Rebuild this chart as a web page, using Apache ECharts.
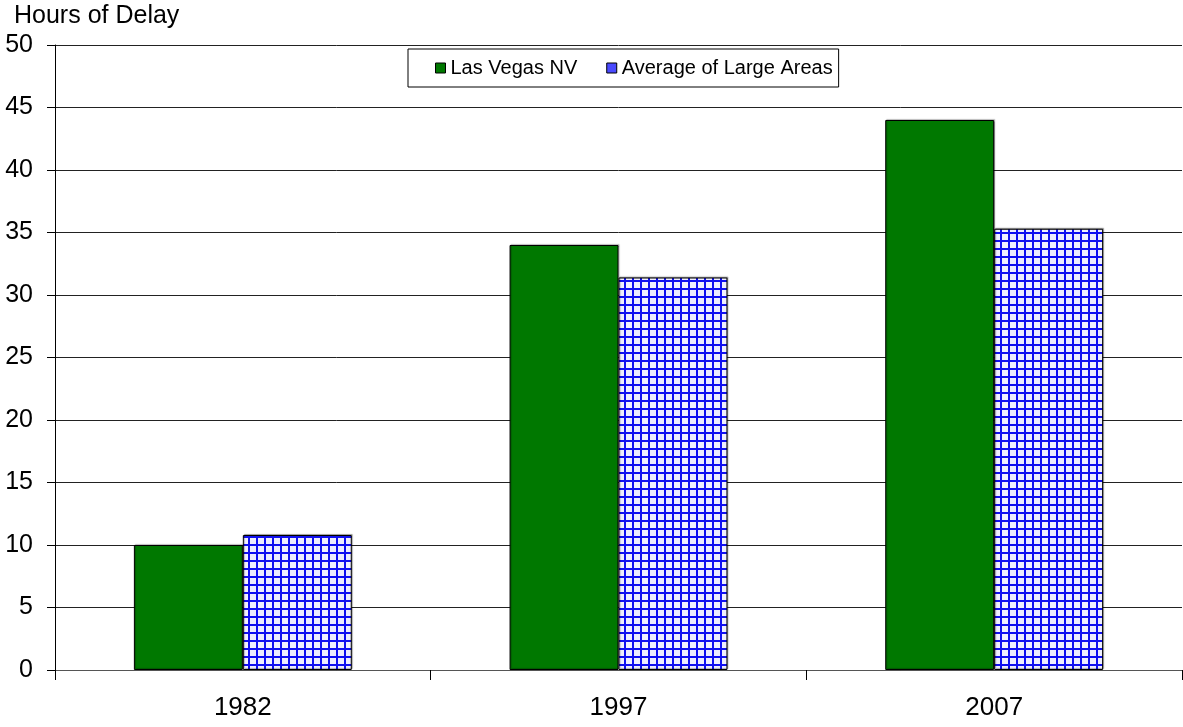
<!DOCTYPE html>
<html><head><meta charset="utf-8">
<script src="https://cdn.jsdelivr.net/npm/echarts@6/dist/echarts.min.js"></script>
<style>html,body{margin:0;padding:0;background:#fff}#c{width:1183px;height:727px}</style>
</head><body><div id="c"></div>
<script>
const categories = ['1982', '1997', '2007'];
const lasVegas = [10, 34, 44];
const largeAreas = [10.8, 31.4, 35.3];
const seriesNames = ['Las Vegas NV', 'Average of Large Areas'];
const yAxisTitle = 'Hours of Delay';

const pc = document.createElement('canvas');
pc.width = 8; pc.height = 8;
const g = pc.getContext('2d');
g.fillStyle = '#f0f0ff'; g.fillRect(0, 0, 8, 8);
g.fillStyle = '#1010f0';
g.fillRect(0, 0, 8, 2);
g.fillRect(0, 0, 2, 8);
const pattern = { image: pc, repeat: 'repeat' };

const chart = echarts.init(document.getElementById('c'), null, { renderer: 'canvas' });
const font = 'Liberation Sans, Arial, sans-serif';
chart.setOption({
  animation: false,
  textStyle: { fontFamily: font },
  grid: { left: 55, right: 1, top: 45, bottom: 57, containLabel: false },
  legend: {
    left: 408, top: 49,
    padding: [9, 6, 9, 27],
    itemGap: 29,
    borderColor: '#000', borderWidth: 1, backgroundColor: '#fff',
    itemWidth: 10, itemHeight: 10, icon: 'rect',
    textStyle: { fontSize: 20, color: '#000', fontFamily: font, lineHeight: 20 },
    data: [
      { name: seriesNames[0], itemStyle: { color: '#007800', borderColor: '#000', borderWidth: 1 } },
      { name: seriesNames[1], itemStyle: { color: '#4a4aff', borderColor: '#000', borderWidth: 1 } }
    ]
  },
  xAxis: {
    type: 'category', data: categories,
    axisLine: { lineStyle: { color: '#555', width: 1 } },
    axisTick: { show: true, alignWithLabel: false, length: 10, lineStyle: { color: '#000' } },
    axisLabel: { fontSize: 26, color: '#000', margin: 25, fontFamily: font }
  },
  yAxis: {
    type: 'value', min: 0, max: 50, interval: 5,
    name: yAxisTitle, nameLocation: 'end', nameGap: 16,
    nameTextStyle: { fontSize: 25, color: '#000', align: 'left', padding: [0, 0, 0, -41], fontFamily: font },
    axisLine: { show: true, lineStyle: { color: '#000', width: 1 } },
    axisTick: { show: true, length: 8, lineStyle: { color: '#000' } },
    axisLabel: { fontSize: 25, color: '#000', margin: 22, fontFamily: font },
    splitLine: { show: true, lineStyle: { color: '#222', width: 1 } }
  },
  series: [
    {
      name: seriesNames[0], type: 'bar', data: lasVegas,
      barGap: '0%', barCategoryGap: '42%',
      itemStyle: { color: '#007800', borderColor: '#000', borderWidth: 1,
        shadowColor: 'rgba(0,0,0,0.3)', shadowOffsetX: 1, shadowOffsetY: -1, shadowBlur: 1 }
    },
    {
      name: seriesNames[1], type: 'bar', data: largeAreas,
      barGap: '0%', barCategoryGap: '42%',
      itemStyle: { color: pattern, borderColor: '#000', borderWidth: 1,
        shadowColor: 'rgba(0,0,0,0.3)', shadowOffsetX: 1, shadowOffsetY: -1, shadowBlur: 1 }
    }
  ]
});
</script></body></html>
